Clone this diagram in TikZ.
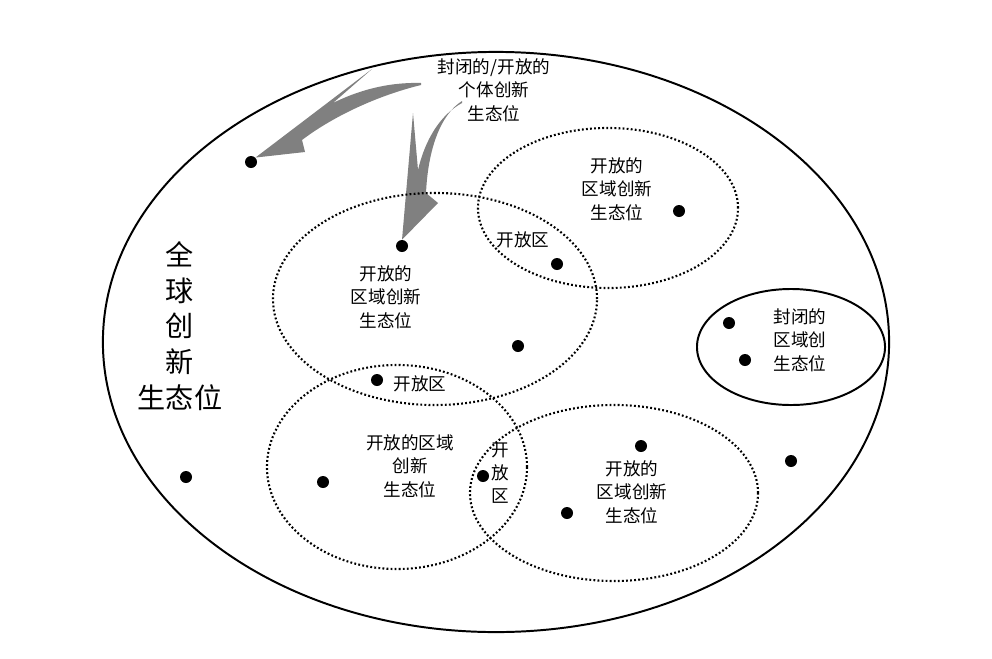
\documentclass[tikz,border=0pt]{standalone}
\usepackage{fontspec}
\setmainfont{Noto Sans CJK SC}
\usetikzlibrary{shapes.geometric}

\begin{document}
\begin{tikzpicture}[
    x=0.025cm, y=-0.025cm,
    world/.style={ellipse, draw, line width=1.4pt, inner sep=0pt},
    region/.style={ellipse, draw, line width=1.5pt, dash pattern=on 1.3pt off 1.6pt, inner sep=0pt},
    closed/.style={ellipse, draw, line width=1.4pt, inner sep=0pt},
    dot/.style={circle, fill=black, minimum size=0.3cm, inner sep=0pt},
    lbl/.style={align=center, inner sep=1pt, font=\fontsize{12.5}{16.6}\selectfont},
    big/.style={align=center, inner sep=1pt, font=\fontsize{20}{25.4}\selectfont},
    swoosh/.style={fill=black!50, draw=none}
]
\useasboundingbox (0,0) rectangle (992,658);

% ---- dots ----
\node[dot] (p1) at (251,162) {};
\node[dot] (p2) at (402,246) {};
\node[dot] (p3) at (557,264) {};
\node[dot] (p4) at (679,211) {};
\node[dot] (p5) at (518,346) {};
\node[dot] (p6) at (377,380) {};
\node[dot] (p7) at (729,323) {};
\node[dot] (p8) at (745,360) {};
\node[dot] (p9) at (323,482) {};
\node[dot] (p10) at (483,476) {};
\node[dot] (p11) at (641,446) {};
\node[dot] (p12) at (567,513) {};
\node[dot] (p13) at (791,461) {};
\node[dot] (p14) at (186,477) {};

% ---- arrows ----
\fill[swoosh] (421,83) .. controls (385,82) and (355,92) .. (333,103) -- (372,69)
    -- (p1.north east) -- (305,152) -- (302,140)
    .. controls (335,115) and (380,95) .. (421,85) -- cycle;
\fill[swoosh] (462,101) .. controls (440,115) and (428,150) .. (426,193) -- (438,203)
    -- (p2.north) -- (413,113) -- (418,170)
    .. controls (425,140) and (440,115) .. (462,103) -- cycle;

% ---- niches ----
\node[world, minimum width=19.65cm, minimum height=14.5cm] (global) at (496,342) {};
\node[region, minimum width=6.5cm, minimum height=4cm] (r1) at (608,208) {};
\node[region, minimum width=8.1cm, minimum height=5.3cm] (r2) at (435,299) {};
\node[region, minimum width=6.5cm, minimum height=5.1cm] (r3) at (397,467) {};
\node[region, minimum width=7.2cm, minimum height=4.4cm] (r4) at (614,493) {};
\node[closed, minimum width=4.7cm, minimum height=2.9cm] (c1) at (791,347) {};

% ---- labels ----
\node[lbl] (indiv) at (494,90) {封闭的/开放的\\个体创新\\生态位};
\node[lbl] (t1) at (617,189) {开放的\\区域创新\\生态位};
\node[lbl] (z12) at (523,240) {开放区};
\node[lbl] (t2) at (386,297) {开放的\\区域创新\\生态位};
\node[lbl] (z23) at (420,384) {开放区};
\node[lbl] (t3) at (410,466) {开放的区域\\创新\\生态位};
\node[lbl] (z34) at (500,473) {开\\放\\区};
\node[lbl] (t4) at (632,492) {开放的\\区域创新\\生态位};
\node[lbl] (tc) at (800,340) {封闭的\\区域创\\生态位};
\node[big] (tg) at (180,326) {全\\球\\创\\新\\生态位};

\end{tikzpicture}
\end{document}
